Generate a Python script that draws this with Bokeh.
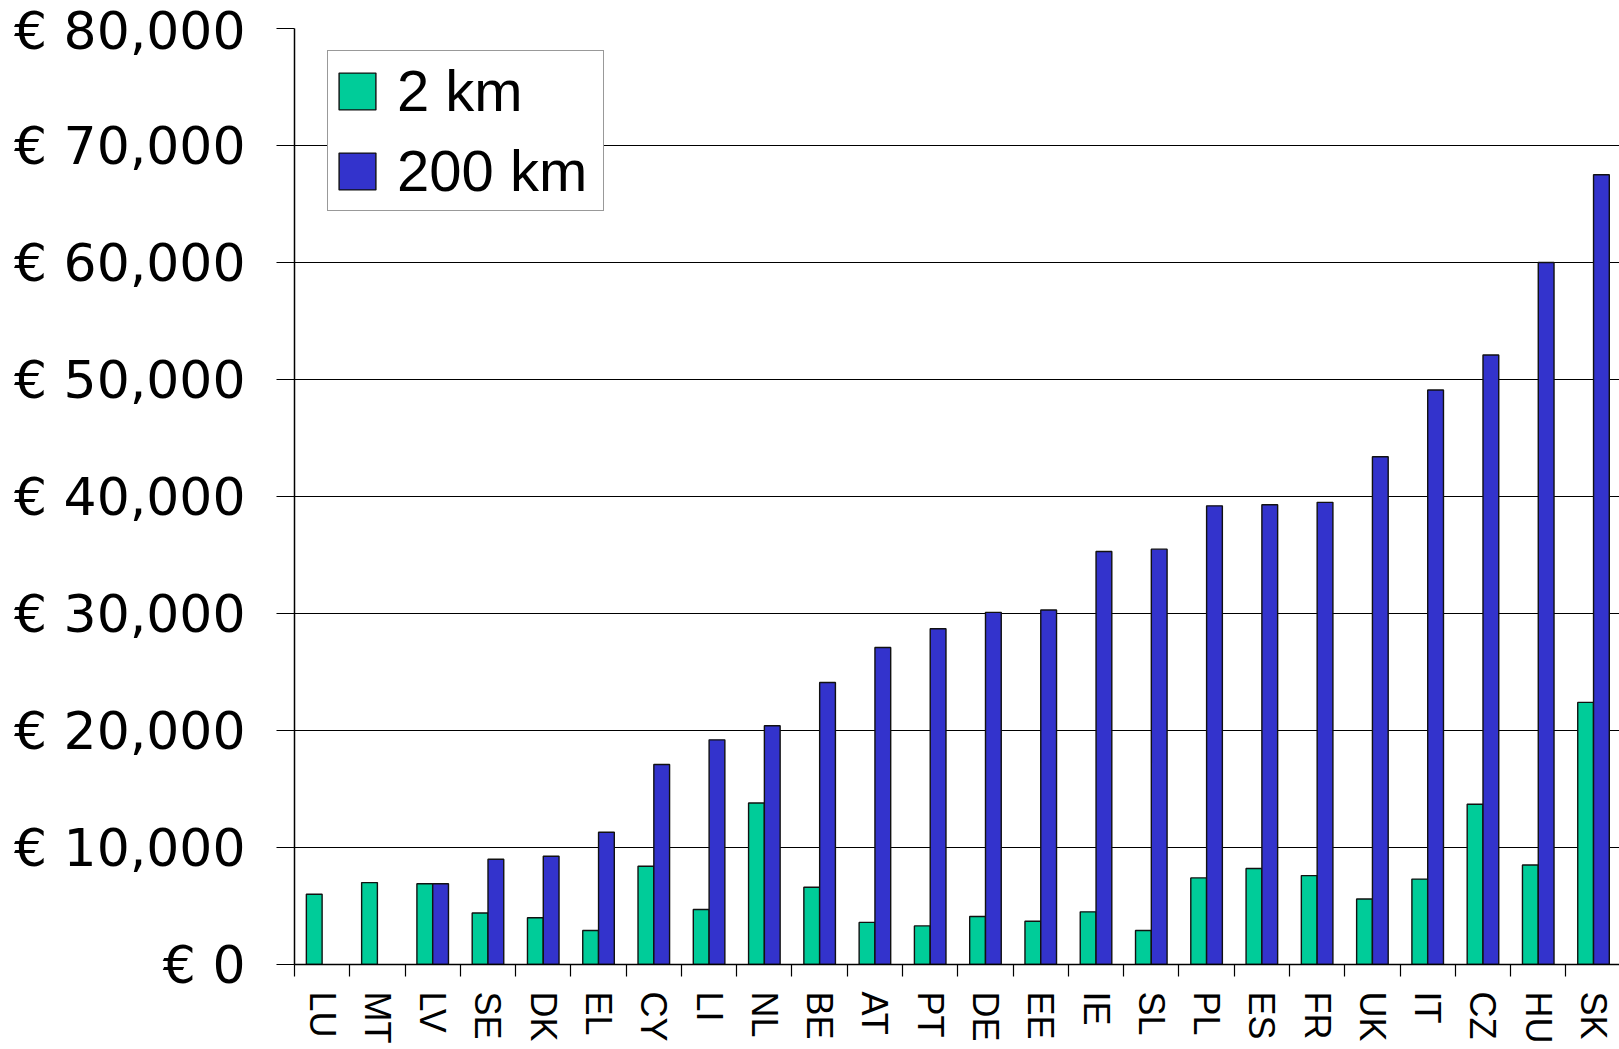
import math
from bokeh.plotting import figure
from bokeh.models import Range1d, FixedTicker, Legend, LegendItem, ColumnDataSource
from bokeh.transform import dodge
from bokeh.embed import file_html
from bokeh.resources import INLINE

countries = ["LU", "MT", "LV", "SE", "DK", "EL", "CY", "LI", "NL", "BE", "AT", "PT",
             "DE", "EE", "IE", "SL", "PL", "ES", "FR", "UK", "IT", "CZ", "HU", "SK"]
km2 = [6000, 7000, 6900, 4400, 4000, 2900, 8400, 4700, 13800, 6600, 3600, 3300,
       4100, 3700, 4500, 2900, 7400, 8200, 7600, 5600, 7300, 13700, 8500, 22400]
km200 = [float("nan"), float("nan"), 6900, 9000, 9250, 11300, 17100, 19200, 20400, 24100, 27100, 28700,
         30100, 30300, 35300, 35500, 39200, 39300, 39500, 43400, 49100, 52100, 60000, 67500]
y_ticks = [0, 10000, 20000, 30000, 40000, 50000, 60000, 70000, 80000]
y_tick_labels = ["€ 0", "€ 10,000", "€ 20,000", "€ 30,000", "€ 40,000",
                 "€ 50,000", "€ 60,000", "€ 70,000", "€ 80,000"]
series_names = ["2 km", "200 km"]
series_colors = ["#00CC99", "#3333CC"]

idx = list(range(len(countries)))
src = ColumnDataSource(dict(x=idx, km2=km2, km200=km200))

p = figure(width=1619, height=1049, output_backend="svg", toolbar_location=None,
           x_range=Range1d(0, 23.97), y_range=Range1d(0, 80000),
           min_border_left=294, min_border_right=0, min_border_top=28, min_border_bottom=85)
p.outline_line_color = None
p.background_fill_color = "white"
p.border_fill_color = "white"

r1 = p.vbar(x=dodge("x", 0.357), top="km2", bottom=0, width=0.285, source=src,
            fill_color=series_colors[0], line_color="#111111", line_width=1.4)
r2 = p.vbar(x=dodge("x", 0.643), top="km200", bottom=0, width=0.285, source=src,
            fill_color=series_colors[1], line_color="#111111", line_width=1.4)

# y axis
p.yaxis.ticker = FixedTicker(ticks=y_ticks)
p.yaxis.major_label_overrides = {t: l for t, l in zip(y_ticks, y_tick_labels)}
p.yaxis.major_label_text_font = "DejaVu Sans"
p.yaxis.major_label_text_font_size = "52px"
p.yaxis.major_label_text_color = "black"
p.yaxis.major_label_standoff = 31
p.yaxis.major_tick_out = 18
p.yaxis.major_tick_in = 0
p.yaxis.minor_tick_line_color = None
p.yaxis.axis_line_color = "black"
p.yaxis.axis_line_width = 1.5
p.yaxis.major_tick_line_color = "black"
p.yaxis.major_tick_line_width = 1.2

# x axis: labels at centres, ticks at boundaries
centres = [i + 0.5 for i in idx]
p.xaxis.ticker = FixedTicker(ticks=centres, minor_ticks=list(range(len(countries) + 1)))
p.xaxis.major_label_overrides = {c: n for c, n in zip(centres, countries)}
p.xaxis.major_label_orientation = -math.pi / 2
p.xaxis.major_label_text_font = "Liberation Sans"
p.xaxis.major_label_text_font_size = "36px"
p.xaxis.major_label_text_color = "black"
p.xaxis.major_label_standoff = 15
p.xaxis.major_tick_out = 0
p.xaxis.major_tick_in = 0
p.xaxis.major_tick_line_color = None
p.xaxis.minor_tick_out = 12
p.xaxis.minor_tick_in = 0
p.xaxis.minor_tick_line_color = "black"
p.xaxis.minor_tick_line_width = 1.2
p.xaxis.axis_line_color = "black"
p.xaxis.axis_line_width = 1.5

p.xgrid.grid_line_color = None
p.ygrid.grid_line_color = "black"
p.ygrid.grid_line_width = 1.2

legend = Legend(items=[LegendItem(label=series_names[0], renderers=[r1]),
                       LegendItem(label=series_names[1], renderers=[r2])],
                location=(33, 753))
legend.label_text_font = "Liberation Sans"
legend.label_text_font_size = "58px"
legend.label_text_color = "black"
legend.glyph_width = 46
legend.glyph_height = 46
legend.label_standoff = 17
legend.label_width = 200
legend.padding = 6
legend.spacing = 13
legend.border_line_color = "#333333"
legend.border_line_width = 1.2
legend.background_fill_color = "white"
legend.background_fill_alpha = 1.0
legend.margin = 0
p.add_layout(legend)

open("out.html", "w").write(file_html(p, INLINE))
